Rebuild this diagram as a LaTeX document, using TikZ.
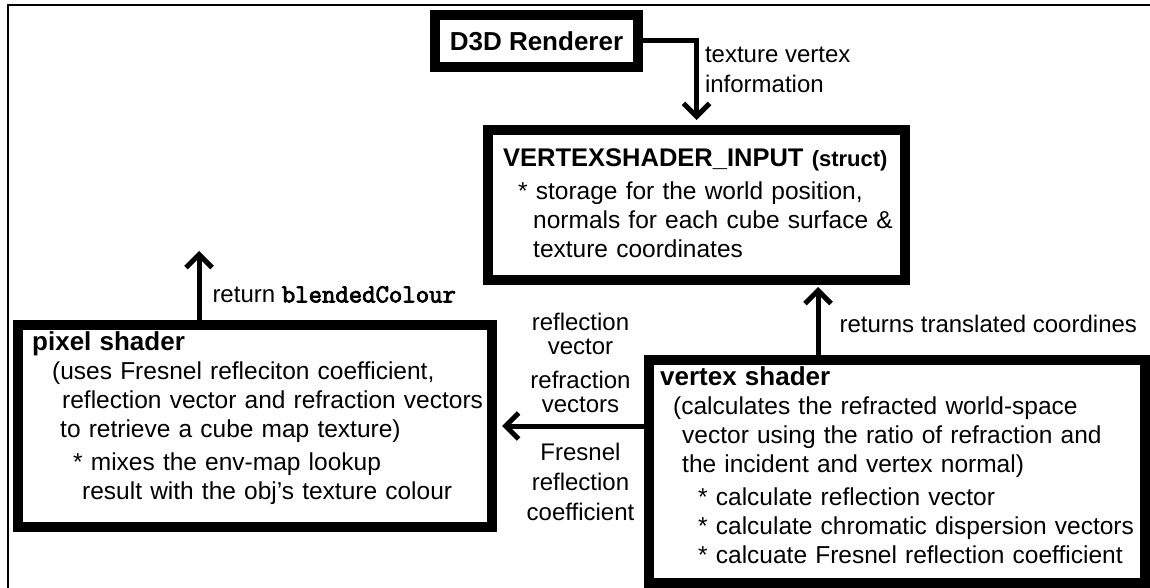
\documentclass[tikz,border=0pt]{standalone}
\usepackage{fontspec}
\setmainfont{Liberation Sans}
\newfontfamily\codefont{Latin Modern Mono}[FakeBold=3]
\usetikzlibrary{arrows.meta}

\begin{document}
\begin{tikzpicture}[x=1pt, y=-1pt,
    box/.style={draw, line width=10pt, inner sep=0pt},
    body/.style={anchor=base west, align=left, inner sep=0pt, font=\fontsize{24.5}{29}\selectfont},
    lbl/.style={inner sep=0pt, font=\fontsize{24}{30}\selectfont},
    flow/.style={line width=5pt, -{Straight Barb[length=13pt, width=26pt]}}]
    \fill[white] (0,0) rectangle (1150,588);
    \useasboundingbox (0,0) rectangle (1150,588);
    \draw[line width=2.5pt] (8,600) |- (1160,5);

    \node[box, minimum width=203pt, minimum height=52pt, font=\fontsize{26}{30}\selectfont\bfseries] (d3d) at (536.5,41) {D3D Renderer};
    \node[box, minimum width=417pt, minimum height=150pt] (vsi) at (696.5,205) {};
    \node[box, minimum width=474pt, minimum height=202pt] (ps) at (255,426) {};
    \node[box, minimum width=496pt, minimum height=223pt] (vs) at (897,471.5) {};

    \node[body, text width=420pt] (vsi-txt) at (503,167) {{\fontsize{25.5}{29}\selectfont\bfseries VERTEXSHADER\_INPUT} {\fontsize{22}{29}\selectfont\bfseries (struct)}\\[4pt]
        \hspace*{15pt}* storage for the world position,\\
        \hspace*{30pt}normals for each cube surface \&\\
        \hspace*{30pt}texture coordinates};
    \node[body, text width=480pt] (ps-txt) at (32,350) {{\fontsize{26}{29}\selectfont\bfseries pixel shader}\\
        \hspace*{20pt}(uses Fresnel refleciton coefficient,\\
        \hspace*{30pt}reflection vector and refraction vectors\\
        \hspace*{28pt}to retrieve a cube map texture)\\[4pt]
        \hspace*{41pt}* mixes the env-map lookup\\
        \hspace*{50pt}result with the obj's texture colour};
    \node[body, text width=490pt] (vs-txt) at (660,385) {{\fontsize{26}{29}\selectfont\bfseries vertex shader}\\
        \hspace*{13pt}(calculates the refracted world-space\\
        \hspace*{22pt}vector using the ratio of refraction and\\
        \hspace*{22pt}the incident and vertex normal)\\[4pt]
        \hspace*{38pt}* calculate reflection vector\\
        \hspace*{38pt}* calculate chromatic dispersion vectors\\
        \hspace*{38pt}* calcuate Fresnel reflection coefficient};

    \coordinate (ret) at (199,251);
    \coordinate (up) at (818,0);

    \draw[flow, shorten >=5pt] (d3d) -| node[lbl, right=6pt, pos=0.67, align=left] {texture vertex\\information} (vsi);
    \draw[flow, shorten >=2pt] (up |- vs.north) -- node[lbl, right=19pt, pos=0.45] {returns translated coordines} (up |- vsi.south);
    \draw[flow] (ret |- ps.north) -- node[lbl, right=11pt, pos=0.37] {return {\codefont\fontsize{26}{30}\selectfont blendedColour}} (ret);
    \draw[flow, shorten >=5pt] (vs.west |- ps.east) -- node[lbl, above=11pt, xshift=10pt, align=center, font=\fontsize{24}{23.5}\selectfont] {reflection\\vector\\[11pt]refraction\\vectors} node[lbl, below=15pt, xshift=10pt, align=center] {Fresnel\\reflection\\coefficient} (ps.east);
\end{tikzpicture}
\end{document}
